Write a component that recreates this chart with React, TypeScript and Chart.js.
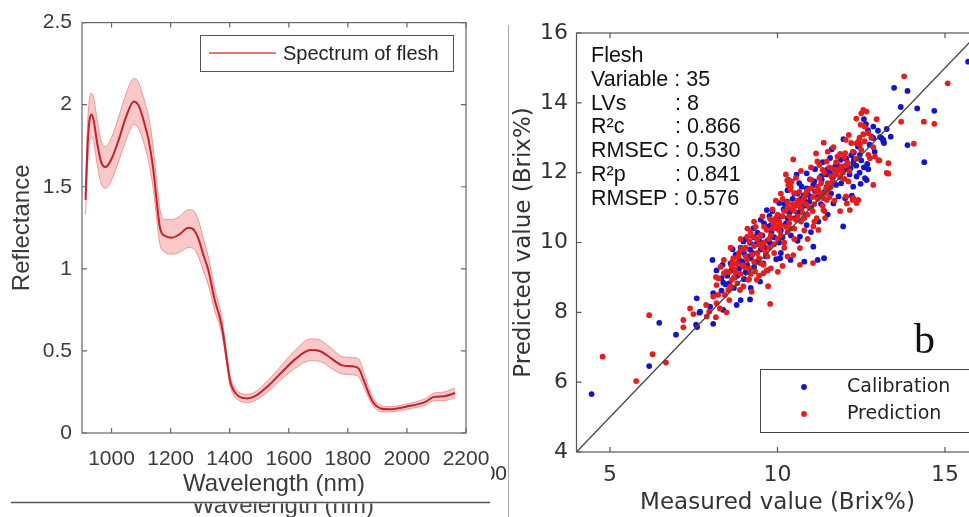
import React, { useEffect, useRef } from "react";
import { Chart, registerables } from "chart.js";

Chart.register(...registerables);

// ---------- Left panel: reflectance spectrum ----------
const wavelengths = [912, 918, 925, 932, 940, 950, 965, 980, 1000, 1025, 1050, 1075, 1090, 1102, 1115, 1125, 1141, 1153, 1164, 1181, 1204, 1230, 1260, 1280, 1295, 1310, 1328, 1350, 1367, 1378, 1389, 1401, 1413, 1430, 1458, 1486, 1532, 1577, 1622, 1673, 1707, 1747, 1781, 1815, 1837, 1854, 1871, 1888, 1911, 1939, 2007, 2063, 2092, 2126, 2163];
const meanReflectance = [1.42, 1.72, 1.9, 1.94, 1.9, 1.78, 1.65, 1.62, 1.67, 1.79, 1.93, 2.02, 2.0, 1.945, 1.86, 1.79, 1.61, 1.41, 1.25, 1.2, 1.19, 1.21, 1.25, 1.235, 1.18, 1.09, 0.99, 0.805, 0.7, 0.6, 0.46, 0.32, 0.26, 0.224, 0.21, 0.224, 0.29, 0.372, 0.45, 0.506, 0.498, 0.45, 0.412, 0.406, 0.392, 0.32, 0.24, 0.18, 0.149, 0.144, 0.164, 0.19, 0.22, 0.224, 0.244];
const upperReflectance = [1.5, 1.85, 2.03, 2.07, 2.04, 1.92, 1.78, 1.745, 1.8, 1.93, 2.07, 2.16, 2.14, 2.08, 2.0, 1.93, 1.74, 1.53, 1.36, 1.3, 1.3, 1.32, 1.36, 1.35, 1.29, 1.19, 1.07, 0.87, 0.76, 0.65, 0.5, 0.35, 0.29, 0.25, 0.236, 0.25, 0.325, 0.415, 0.505, 0.573, 0.565, 0.51, 0.465, 0.46, 0.45, 0.37, 0.275, 0.205, 0.168, 0.16, 0.18, 0.21, 0.243, 0.25, 0.275];
const lowerReflectance = [1.33, 1.6, 1.77, 1.8, 1.77, 1.65, 1.52, 1.49, 1.54, 1.66, 1.79, 1.88, 1.86, 1.81, 1.73, 1.66, 1.49, 1.3, 1.15, 1.1, 1.09, 1.1, 1.13, 1.12, 1.07, 0.99, 0.9, 0.74, 0.65, 0.56, 0.43, 0.29, 0.23, 0.2, 0.184, 0.198, 0.255, 0.33, 0.395, 0.44, 0.435, 0.39, 0.36, 0.355, 0.34, 0.28, 0.21, 0.16, 0.13, 0.128, 0.148, 0.17, 0.197, 0.198, 0.213];
const wavelengthTicks = [1000, 1200, 1400, 1600, 1800, 2000, 2200];
const reflectanceTicks = [0, 0.5, 1, 1.5, 2, 2.5];

// ---------- Right panel: measured vs predicted ----------
const calibration: number[][] = [
  [4.45, 5.66], [6.17, 6.46], [6.47, 7.7], [6.97, 7.36], [7.57, 7.65], [7.6, 7.58], [7.59, 8.4], [7.67, 7.99], [7.69, 8.02],
  [8.08, 7.67], [7.99, 8.16], [8.08, 8.55], [8.06, 9.5], [8.18, 9.2], [8.36, 9.36], [8.38, 8.85], [8.33, 8.98], [8.33, 8.62],
  [8.38, 8.07], [8.56, 8.83], [8.66, 9.81], [8.78, 8.21], [8.9, 8.35], [8.86, 9.5], [8.98, 10.03], [9.05, 10.1], [9.18, 9.99],
  [9.18, 8.37], [9.18, 9.8], [9.28, 10.41], [9.4, 10.28], [9.48, 8.88], [9.58, 9.4], [9.68, 10.93], [9.76, 10.76], [9.78, 9.98],
  [9.96, 9.52], [10.08, 9.55], [10.05, 11.13], [10.29, 11.17], [10.32, 11.79], [10.39, 9.5], [10.55, 11.08], [10.57, 11.94],
  [10.67, 10.17], [10.72, 11.6], [10.82, 11.17], [10.87, 10.5], [10.87, 11.55], [10.87, 11.98], [10.95, 11.17], [10.97, 11.32],
  [10.97, 11.81], [11.07, 9.88], [11.07, 11.65], [11.12, 11.46], [11.12, 12.1], [11.22, 10.6], [11.32, 11.79], [11.39, 9.55],
  [11.47, 11.6], [11.57, 11.99], [11.57, 12.42], [11.62, 12.67], [11.67, 11.12], [11.72, 12.18], [11.82, 11.32], [11.87, 12.08],
  [11.89, 12.37], [11.96, 10.46], [11.97, 12.96], [12.02, 11.27], [12.18, 12.13], [12.22, 11.34], [12.26, 11.6], [12.26, 12.27],
  [12.28, 12.58], [12.28, 12.37], [12.36, 11.89], [12.45, 12.0], [12.46, 12.51], [12.48, 11.68], [12.58, 13.53], [12.58, 12.15],
  [12.61, 11.84], [12.64, 13.39], [12.66, 11.79], [12.68, 12.25], [12.7, 13.22], [12.71, 12.1], [12.81, 13.03], [12.86, 13.32],
  [12.86, 12.99], [13.06, 13.02], [13.11, 12.99], [13.16, 12.94], [13.16, 12.89], [13.18, 12.85], [13.26, 13.25], [13.38, 13.03],
  [13.48, 14.43], [13.68, 13.88], [13.88, 14.34], [13.88, 12.79], [14.17, 13.84], [14.38, 12.3], [14.68, 13.77], [15.69, 15.18],
  [10.8, 9.45], [11.2, 9.5],
  [8.5, 9.05], [8.62, 9.2], [8.72, 9.0], [8.85, 9.25], [8.95, 9.45], [9.05, 9.15], [9.12, 9.6], [9.25, 9.7], [9.35, 9.95],
  [9.45, 10.05], [9.55, 10.2], [9.62, 9.85], [9.7, 10.45], [9.82, 10.3], [9.9, 10.6], [10.0, 10.4], [10.1, 10.75], [10.18, 10.95],
  [10.25, 10.55], [10.35, 10.85], [10.45, 11.25], [10.52, 10.7], [10.6, 11.4], [10.7, 10.95], [10.78, 11.35], [9.3, 9.3],
  [9.65, 9.6], [10.15, 10.15], [10.4, 10.2], [9.85, 10.9], [10.3, 11.5], [10.65, 11.7], [9.0, 9.7], [8.75, 9.65], [9.5, 10.65],
  [10.05, 10.0], [11.3, 11.1], [11.45, 11.95], [11.75, 11.65], [12.05, 12.4], [12.15, 11.95], [11.6, 11.4], [11.35, 12.3],
  [12.4, 12.75], [12.9, 12.6],
  [8.45, 8.8], [8.6, 9.4], [8.7, 8.7], [8.8, 9.05], [8.9, 9.85], [9.0, 8.95], [9.1, 9.35], [9.2, 9.55], [9.3, 10.15], [9.4, 9.45],
  [9.5, 9.8], [9.6, 10.55], [9.7, 10.05], [9.8, 10.5], [9.9, 10.15], [10.0, 10.65], [10.1, 10.35], [10.2, 11.1], [10.3, 10.7],
  [10.4, 10.95], [10.5, 11.4], [10.6, 10.85], [10.7, 11.25], [10.8, 11.05], [10.9, 11.4], [11.0, 11.0], [11.1, 11.75], [11.2, 11.3],
  [11.3, 11.9], [11.4, 11.45], [11.5, 12.1], [11.65, 11.85], [11.8, 12.2], [11.9, 11.7], [12.05, 12.1], [12.2, 12.5], [12.35, 12.2],
  [12.5, 12.35], [12.75, 12.8], [13.0, 13.2], [10.1, 9.7], [10.6, 10.05], [11.0, 10.3], [11.5, 10.8], [9.7, 9.2], [9.2, 8.7]
];
const prediction: number[][] = [
  [4.78, 6.73], [5.78, 6.03], [6.17, 7.92], [6.27, 6.8], [6.67, 6.56], [7.19, 7.78], [7.19, 7.57], [7.39, 8.11], [7.49, 7.95],
  [7.87, 8.21], [7.89, 7.88], [7.96, 8.02], [8.08, 8.45], [8.16, 7.86], [8.16, 9.01], [8.18, 8.26], [8.18, 8.78], [8.23, 8.5],
  [8.24, 8.97], [8.28, 8.11], [8.4, 9.12], [8.43, 8.5], [8.48, 8.0], [8.48, 9.17], [8.53, 8.64], [8.56, 8.35], [8.63, 9.31],
  [8.64, 8.93], [8.68, 9.55], [8.73, 9.22], [8.76, 9.39], [8.8, 8.83], [8.8, 9.41], [8.83, 9.6], [8.88, 8.64], [8.93, 9.84],
  [8.98, 8.74], [8.98, 9.81], [9.1, 10.17], [9.16, 10.03], [9.23, 8.59], [9.26, 10.17], [9.38, 8.93], [9.5, 10.22], [9.58, 9.12],
  [9.68, 9.2], [9.68, 10.36], [9.72, 8.75], [9.78, 8.24], [9.78, 10.67], [9.8, 9.26], [9.87, 10.55], [9.99, 10.46], [10.01, 9.16],
  [10.15, 9.33], [10.25, 11.95], [10.29, 11.78], [10.32, 11.65], [10.39, 11.51], [10.42, 11.75], [10.47, 12.38], [10.47, 9.64],
  [10.52, 11.41], [10.67, 9.84], [10.67, 9.36], [11.06, 9.41], [11.07, 10.46], [11.17, 10.7], [11.19, 12.32], [11.22, 10.36],
  [11.22, 11.51], [11.25, 12.22], [11.35, 12.08], [11.37, 10.93], [11.37, 11.27], [11.38, 12.86], [11.42, 10.7], [11.42, 11.41],
  [11.47, 11.22], [11.47, 12.32], [11.52, 11.51], [11.59, 11.59], [11.67, 12.73], [11.72, 11.94], [11.77, 11.98], [11.79, 12.46],
  [11.87, 10.9], [11.87, 11.87], [11.87, 12.54], [11.92, 12.18], [12.0, 11.82], [12.02, 12.56], [12.02, 12.2], [12.04, 12.94],
  [12.05, 11.32], [12.07, 11.12], [12.07, 12.22], [12.09, 12.29], [12.13, 13.08], [12.12, 11.75], [12.16, 10.93], [12.24, 11.22],
  [12.26, 11.27], [12.36, 11.13], [12.36, 12.84], [12.41, 11.22], [12.41, 12.89], [12.46, 12.8], [12.48, 13.37], [12.56, 13.8],
  [12.56, 13.1], [12.6, 13.32], [12.66, 13.75], [12.71, 13.13], [12.71, 12.51], [12.76, 12.41], [12.86, 12.73], [12.86, 11.65],
  [12.91, 12.46], [12.96, 13.53], [13.01, 12.35], [13.04, 12.35], [13.26, 11.99], [13.31, 12.27], [13.31, 11.97], [13.69, 13.46],
  [13.78, 14.76], [14.07, 12.83], [14.37, 13.46], [14.68, 13.4], [15.08, 14.56],
  [9.0, 9.3], [9.1, 9.5], [9.2, 9.1], [9.3, 9.9], [9.4, 9.7], [9.5, 9.4], [9.6, 10.0], [9.7, 9.6], [9.8, 10.2], [9.9, 10.6],
  [10.0, 10.8], [10.0, 10.1], [10.1, 10.5], [10.2, 10.9], [10.2, 10.0], [10.3, 11.0], [10.3, 10.3], [10.4, 10.7], [10.5, 10.9],
  [10.5, 10.4], [10.6, 11.2], [10.7, 11.0], [10.7, 10.6], [10.8, 11.3], [10.9, 10.8], [10.9, 11.5], [11.0, 11.8], [11.1, 11.1],
  [11.2, 11.6], [11.3, 11.4], [11.4, 12.0], [11.5, 11.7], [11.6, 11.9], [9.35, 10.45], [9.55, 10.75], [9.45, 9.95], [9.75, 9.85],
  [10.05, 10.35], [10.35, 10.55], [10.55, 10.65], [10.75, 10.85], [10.15, 11.25], [10.45, 11.1], [9.25, 9.65], [9.05, 9.85],
  [8.9, 9.1], [8.7, 9.0], [8.6, 8.75], [9.15, 8.95], [9.85, 10.95], [10.65, 11.45], [10.85, 11.1], [11.05, 11.3], [11.25, 11.85],
  [11.55, 12.15], [11.75, 12.3], [11.95, 12.0], [9.33, 9.17], [9.58, 9.36], [9.13, 8.93], [9.45, 9.05],
  [8.55, 9.15], [8.65, 9.45], [8.75, 9.15], [8.85, 9.7], [8.95, 9.35], [9.05, 9.6], [9.15, 9.25], [9.2, 10.3], [9.3, 9.45],
  [9.4, 10.1], [9.45, 9.55], [9.55, 9.85], [9.6, 10.45], [9.65, 9.7], [9.75, 10.1], [9.85, 10.4], [9.9, 9.95], [9.95, 10.7],
  [10.05, 10.6], [10.1, 10.2], [10.15, 10.75], [10.25, 10.45], [10.3, 11.15], [10.35, 10.75], [10.4, 10.4], [10.45, 10.95],
  [10.55, 11.05], [10.6, 10.75], [10.65, 11.1], [10.75, 11.2], [10.8, 10.7], [10.85, 11.4], [10.95, 11.0], [11.0, 11.55],
  [11.05, 10.9], [11.15, 11.45], [11.2, 11.25], [11.3, 11.7], [11.35, 11.05], [11.45, 11.55], [11.55, 11.3], [11.65, 11.75],
  [11.7, 12.1], [11.85, 12.1], [12.0, 12.45], [12.15, 12.05], [12.25, 12.6], [12.35, 12.4], [12.5, 12.65], [12.6, 12.9],
  [12.2, 12.85], [12.45, 13.0], [12.8, 13.0], [12.35, 13.55], [12.5, 13.7], [9.95, 11.2], [10.1, 11.4], [10.4, 11.6],
  [10.55, 11.85], [10.7, 12.05], [11.0, 12.15], [11.15, 12.55], [11.5, 12.6], [9.3, 10.6], [9.1, 10.4], [8.9, 10.1], [8.6, 9.85],
  [8.4, 9.5], [8.3, 9.3], [9.9, 9.7], [10.2, 9.85], [10.5, 10.1], [10.8, 10.35], [11.1, 10.6], [11.4, 10.9], [11.7, 11.2],
  [10.3, 9.6], [10.9, 10.1]
];
const identityLine = [4, 16];
const measuredTicks = [5, 10, 15];
const predictedTicks = [4, 6, 8, 10, 12, 14, 16];
const statsLabels = ["Flesh", "Variable : 35", "LVs", "R\u00B2c", "RMSEC : 0.530", "R\u00B2p", "RMSEP : 0.576"];
const statsValues = ["", "", ": 8", ": 0.866", "", ": 0.841", ""];

const SANS = '"Liberation Sans", Arial, sans-serif';
const DEJAVU = '"DejaVu Sans", sans-serif';

function framePlugin(xTicks: number[], yTicks: number[], color: string) {
  return {
    id: "frameTicks",
    afterDatasetsDraw(chart: any) {
      const { ctx, chartArea: a, scales } = chart;
      ctx.save();
      ctx.strokeStyle = color;
      ctx.lineWidth = 1.2;
      ctx.strokeRect(a.left, a.top, a.right - a.left, a.bottom - a.top);
      ctx.beginPath();
      for (const v of xTicks) {
        const px = scales.x.getPixelForValue(v);
        ctx.moveTo(px, a.bottom);
        ctx.lineTo(px, a.bottom - 5);
        ctx.moveTo(px, a.top);
        ctx.lineTo(px, a.top + 5);
      }
      for (const v of yTicks) {
        const py = scales.y.getPixelForValue(v);
        ctx.moveTo(a.left, py);
        ctx.lineTo(a.left + 5, py);
        ctx.moveTo(a.right, py);
        ctx.lineTo(a.right - 5, py);
      }
      ctx.stroke();
      ctx.restore();
    },
  };
}

const leftDecor = {
  id: "leftDecor",
  afterDraw(chart: any) {
    const ctx = chart.ctx;
    ctx.save();
    ctx.fillStyle = "#fff";
    ctx.fillRect(200.5, 35.5, 253, 36);
    ctx.strokeStyle = "#555";
    ctx.lineWidth = 1;
    ctx.strokeRect(200.5, 35.5, 253, 36);
    ctx.strokeStyle = "rgb(218,75,78)";
    ctx.lineWidth = 1.6;
    ctx.beginPath();
    ctx.moveTo(209, 53);
    ctx.lineTo(276, 53);
    ctx.stroke();
    ctx.fillStyle = "#222";
    ctx.font = `20px ${SANS}`;
    ctx.textBaseline = "middle";
    ctx.textAlign = "left";
    ctx.fillText("Spectrum of flesh", 283, 54);
    ctx.strokeStyle = "#555";
    ctx.lineWidth = 1.5;
    ctx.beginPath();
    ctx.moveTo(11, 502.5);
    ctx.lineTo(490, 502.5);
    ctx.stroke();
    ctx.save();
    ctx.beginPath();
    ctx.rect(0, 503.5, 505, 20);
    ctx.clip();
    ctx.fillStyle = "#444";
    ctx.font = `24px ${SANS}`;
    ctx.textAlign = "center";
    ctx.textBaseline = "alphabetic";
    ctx.fillText("Wavelength (nm)", 283, 513);
    ctx.restore();
    ctx.save();
    ctx.beginPath();
    ctx.rect(491, 450, 19, 40);
    ctx.clip();
    ctx.fillStyle = "#333";
    ctx.font = `21px ${SANS}`;
    ctx.textAlign = "right";
    ctx.textBaseline = "alphabetic";
    ctx.fillText("00", 507, 480);
    ctx.restore();
    ctx.strokeStyle = "#aaa";
    ctx.lineWidth = 1;
    ctx.beginPath();
    ctx.moveTo(508.5, 25);
    ctx.lineTo(508.5, 517);
    ctx.stroke();
    ctx.restore();
  },
};

const rightDecor = {
  id: "rightDecor",
  afterDraw(chart: any) {
    const ctx = chart.ctx;
    ctx.save();
    ctx.fillStyle = "#111";
    ctx.font = `21.5px ${SANS}`;
    ctx.textAlign = "left";
    ctx.textBaseline = "alphabetic";
    statsLabels.forEach((t, i) => {
      const y = 62 + i * 23.8;
      ctx.fillText(t, 81, y);
      if (statsValues[i]) ctx.fillText(statsValues[i], 165, y);
    });
    ctx.font = `42px "Liberation Serif", "DejaVu Serif", serif`;
    ctx.fillText("b", 404, 353);
    ctx.fillStyle = "#fff";
    ctx.fillRect(250.5, 369.5, 260, 63);
    ctx.strokeStyle = "#444";
    ctx.lineWidth = 1;
    ctx.strokeRect(250.5, 369.5, 260, 63);
    ctx.fillStyle = "rgb(20,20,205)";
    ctx.beginPath();
    ctx.arc(294, 387, 2.9, 0, Math.PI * 2);
    ctx.fill();
    ctx.fillStyle = "rgb(228,30,30)";
    ctx.beginPath();
    ctx.arc(294, 414, 2.9, 0, Math.PI * 2);
    ctx.fill();
    ctx.fillStyle = "#222";
    ctx.font = `19px ${DEJAVU}`;
    ctx.textBaseline = "middle";
    ctx.fillText("Calibration", 337, 387);
    ctx.fillText("Prediction", 337, 414);
    ctx.restore();
  },
};

function LeftChart() {
  const ref = useRef<HTMLCanvasElement>(null);
  useEffect(() => {
    const toPts = (arr: number[]) => wavelengths.map((w, i) => ({ x: w, y: arr[i] }));
    const chart = new Chart(ref.current as HTMLCanvasElement, {
      type: "line",
      data: {
        datasets: [
          {
            label: "upper",
            data: toPts(upperReflectance),
            borderColor: "rgba(238,140,140,0.9)",
            borderWidth: 1,
            backgroundColor: "rgba(246,168,168,0.62)",
            fill: "+1",
            pointRadius: 0,
            cubicInterpolationMode: "monotone",
            order: 2,
          },
          {
            label: "lower",
            data: toPts(lowerReflectance),
            borderColor: "rgba(238,140,140,0.9)",
            borderWidth: 1,
            fill: false,
            pointRadius: 0,
            cubicInterpolationMode: "monotone",
            order: 1,
          },
          {
            label: "Spectrum of flesh",
            data: toPts(meanReflectance),
            borderColor: "rgb(196,34,42)",
            borderWidth: 2,
            fill: false,
            pointRadius: 0,
            cubicInterpolationMode: "monotone",
            order: 0,
          },
        ],
      },
      options: {
        animation: false,
        responsive: false,
        layout: { padding: { left: 0, right: 44, top: 20, bottom: 0 } },
        plugins: { legend: { display: false }, tooltip: { enabled: false } },
        scales: {
          x: {
            type: "linear",
            min: 900,
            max: 2200,
            afterBuildTicks: (s: any) => {
              s.ticks = wavelengthTicks.map((v) => ({ value: v }));
            },
            afterFit: (s: any) => {
              s.height = 84;
            },
            grid: { display: false, drawTicks: false },
            border: { display: false },
            ticks: {
              padding: 14,
              color: "#3a3a3a",
              font: { family: SANS, size: 21 },
              maxRotation: 0,
              autoSkip: false,
              callback: (v: any) => String(v),
            },
            title: {
              display: true,
              text: "Wavelength (nm)",
              color: "#3a3a3a",
              font: { family: SANS, size: 24 },
              padding: { top: 0, bottom: 18 },
            },
          },
          y: {
            type: "linear",
            min: 0,
            max: 2.5,
            afterBuildTicks: (s: any) => {
              s.ticks = reflectanceTicks.map((v) => ({ value: v }));
            },
            afterFit: (s: any) => {
              s.width = 82;
            },
            grid: { display: false, drawTicks: false },
            border: { display: false },
            ticks: {
              padding: 10,
              color: "#3a3a3a",
              font: { family: SANS, size: 21 },
              autoSkip: false,
              callback: (v: any) => String(v),
            },
            title: {
              display: true,
              text: "Reflectance",
              color: "#3a3a3a",
              font: { family: SANS, size: 24 },
              padding: { top: 8, bottom: 0 },
            },
          },
        },
      },
      plugins: [framePlugin(wavelengthTicks, reflectanceTicks, "#666"), leftDecor],
    } as any);
    return () => chart.destroy();
  }, []);
  return <canvas ref={ref} width={510} height={517} style={{ position: "absolute", left: 0, top: 0 }} />;
}

function RightChart() {
  const ref = useRef<HTMLCanvasElement>(null);
  useEffect(() => {
    const toPts = (arr: number[][]) => arr.map((p) => ({ x: p[0], y: p[1] }));
    const chart = new Chart(ref.current as HTMLCanvasElement, {
      type: "scatter",
      data: {
        datasets: [
          {
            type: "line",
            label: "1:1",
            data: identityLine.map((v) => ({ x: v, y: v })),
            borderColor: "#444",
            borderWidth: 1.3,
            pointRadius: 0,
            fill: false,
            order: 0,
          },
          {
            label: "Prediction",
            data: toPts(prediction),
            backgroundColor: "rgb(228,30,30)",
            borderWidth: 0,
            pointRadius: 2.9,
            order: 1,
          },
          {
            label: "Calibration",
            data: toPts(calibration),
            backgroundColor: "rgb(20,20,205)",
            borderWidth: 0,
            pointRadius: 2.9,
            order: 2,
          },
        ],
      },
      options: {
        animation: false,
        responsive: false,
        layout: { padding: { left: 0, right: 11.5, top: 33, bottom: 0 } },
        plugins: { legend: { display: false }, tooltip: { enabled: false } },
        scales: {
          x: {
            type: "linear",
            min: 4,
            max: 16,
            afterBuildTicks: (s: any) => {
              s.ticks = measuredTicks.map((v) => ({ value: v }));
            },
            afterFit: (s: any) => {
              s.height = 65;
            },
            grid: { display: false, drawTicks: false },
            border: { display: false },
            ticks: {
              padding: 10,
              color: "#333",
              font: { family: DEJAVU, size: 22 },
              maxRotation: 0,
              autoSkip: false,
              callback: (v: any) => String(v),
            },
            title: {
              display: true,
              text: "Measured value (Brix%)",
              color: "#333",
              font: { family: DEJAVU, size: 23 },
              padding: { top: 0, bottom: 0 },
            },
          },
          y: {
            type: "linear",
            min: 4,
            max: 16,
            afterBuildTicks: (s: any) => {
              s.ticks = predictedTicks.map((v) => ({ value: v }));
            },
            afterFit: (s: any) => {
              s.width = 66.5;
            },
            grid: { display: false, drawTicks: false },
            border: { display: false },
            ticks: {
              padding: 8.5,
              color: "#333",
              font: { family: DEJAVU, size: 22 },
              autoSkip: false,
              callback: (v: any) => String(v),
            },
            title: {
              display: true,
              text: "Predicted value (Brix%)",
              color: "#333",
              font: { family: DEJAVU, size: 23 },
              padding: { top: 0, bottom: 0 },
            },
          },
        },
      },
      plugins: [framePlugin(measuredTicks, predictedTicks, "#555"), rightDecor],
    } as any);
    return () => chart.destroy();
  }, []);
  return <canvas ref={ref} width={480} height={517} style={{ position: "absolute", left: 0, top: 0 }} />;
}

export default function App() {
  return (
    <div
      style={{
        position: "fixed",
        left: 0,
        top: 0,
        width: 969,
        height: 517,
        background: "#fff",
        overflow: "hidden",
      }}
    >
      <LeftChart />
      <div style={{ position: "absolute", left: 510, top: 0, width: 459, height: 517, overflow: "hidden" }}>
        <RightChart />
      </div>
    </div>
  );
}
